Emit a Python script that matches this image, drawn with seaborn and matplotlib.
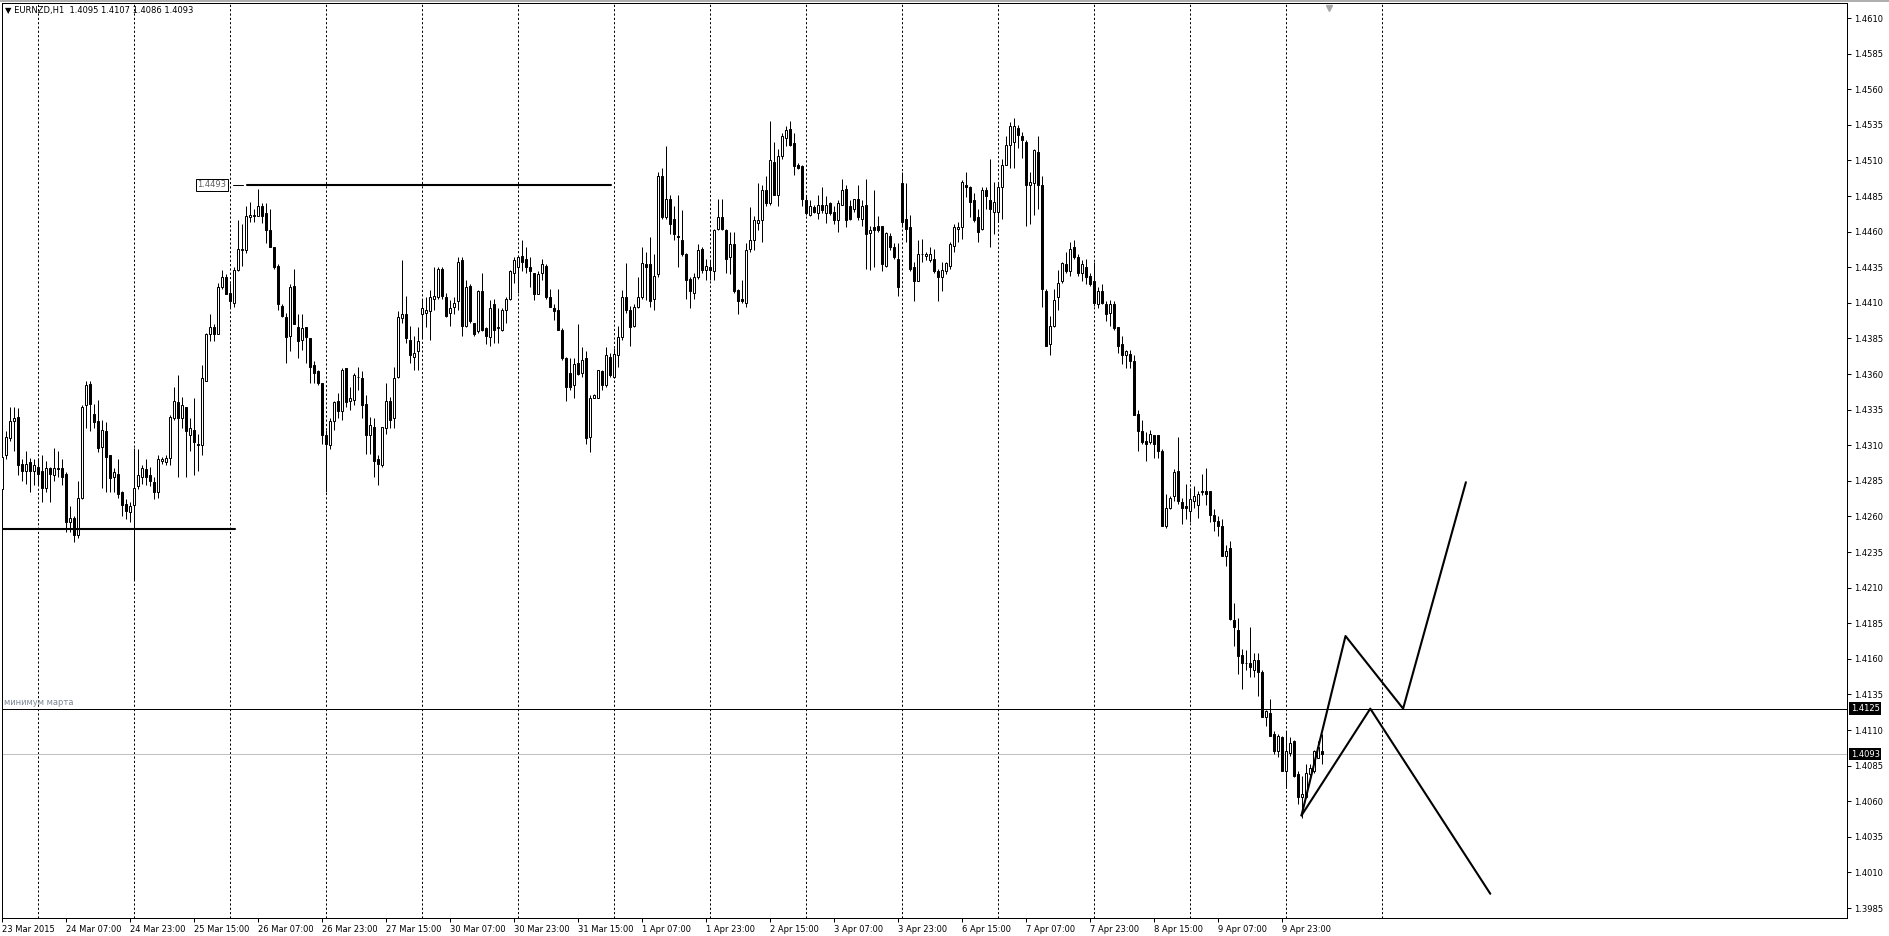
import matplotlib
matplotlib.use("Agg")
import matplotlib.pyplot as plt
import matplotlib.transforms as mtransforms
import seaborn as sns
import numpy as np
import pandas as pd

# ---------------- data (EURNZD H1, bars from 23 Mar 2015 15:00) ----------------
opens = [
1.4279,1.4303,1.4315,1.4327,1.4330,1.4297,1.4292,1.4298,1.4292,1.4295,
1.4292,1.4280,1.4294,1.4289,1.4294,1.4294,1.4290,1.4256,1.4259,1.4247,
1.4273,1.4338,1.4353,1.4332,1.4327,1.4309,1.4320,1.4303,1.4288,1.4290,
1.4277,1.4269,1.4263,1.4268,1.4281,1.4288,1.4293,1.4289,1.4284,1.4277,
1.4299,1.4298,1.4301,1.4329,1.4340,1.4329,1.4337,1.4317,1.4321,1.4311,
1.4310,1.4355,1.4388,1.4393,1.4388,1.4421,1.4428,1.4417,1.4410,1.4433,
1.4447,1.4447,1.4470,1.4471,1.4471,1.4478,1.4473,1.4461,1.4449,1.4436,
1.4408,1.4400,1.4387,1.4422,1.4393,1.4384,1.4393,1.4385,1.4366,1.4362,
1.4354,1.4317,1.4310,1.4327,1.4341,1.4334,1.4364,1.4341,1.4342,1.4358,
1.4357,1.4339,1.4317,1.4323,1.4300,1.4296,1.4322,1.4341,1.4329,1.4358,
1.4399,1.4402,1.4384,1.4372,1.4376,1.4402,1.4403,1.4404,1.4413,1.4414,
1.4434,1.4414,1.4403,1.4407,1.4411,1.4440,1.4394,1.4422,1.4396,1.4390,
1.4418,1.4392,1.4386,1.4409,1.4392,1.4391,1.4405,1.4413,1.4431,1.4435,
1.4443,1.4441,1.4435,1.4431,1.4416,1.4431,1.4436,1.4414,1.4406,1.4405,
1.4391,1.4371,1.4361,1.4352,1.4368,1.4361,1.4371,1.4316,1.4343,1.4343,
1.4362,1.4352,1.4372,1.4358,1.4373,1.4386,1.4414,1.4405,1.4394,1.4407,
1.4414,1.4437,1.4437,1.4413,1.4430,1.4499,1.4470,1.4483,1.4469,1.4457,
1.4454,1.4444,1.4427,1.4417,1.4428,1.4448,1.4433,1.4435,1.4432,1.4462,
1.4470,1.4461,1.4442,1.4451,1.4419,1.4413,1.4410,1.4448,1.4454,1.4466,
1.4468,1.4489,1.4480,1.4509,1.4486,1.4513,1.4526,1.4532,1.4522,1.4507,
1.4506,1.4482,1.4472,1.4477,1.4473,1.4479,1.4473,1.4480,1.4474,1.4468,
1.4479,1.4490,1.4478,1.4476,1.4483,1.4469,1.4479,1.4459,1.4463,1.4464,
1.4464,1.4436,1.4457,1.4449,1.4441,1.4494,1.4469,1.4463,1.4435,1.4425,
1.4444,1.4443,1.4440,1.4441,1.4432,1.4428,1.4432,1.4436,1.4450,1.4462,
1.4463,1.4493,1.4491,1.4482,1.4470,1.4462,1.4489,1.4482,1.4474,1.4474,
1.4491,1.4507,1.4521,1.4523,1.4533,1.4527,1.4523,1.4493,1.4494,1.4516,
1.4493,1.4418,1.4381,1.4394,1.4414,1.4425,1.4437,1.4432,1.4449,1.4442,
1.4431,1.4435,1.4429,1.4425,1.4409,1.4418,1.4409,1.4403,1.4409,1.4393,
1.4381,1.4373,1.4374,1.4369,1.4332,1.4320,1.4313,1.4312,1.4317,1.4317,
1.4306,1.4253,1.4266,1.4274,1.4292,1.4270,1.4267,1.4264,1.4271,1.4268,
1.4277,1.4278,1.4278,1.4261,1.4257,1.4253,1.4232,1.4238,1.4187,1.4180,
1.4163,1.4157,1.4157,1.4152,1.4159,1.4151,1.4119,1.4122,1.4107,1.4095,
1.4105,1.4081,1.4094,1.4102,1.4079,1.4063,1.4063,1.4079,1.4081,1.4090,
1.4095]
highs = [
1.4309,1.4320,1.4337,1.4337,1.4336,1.4300,1.4306,1.4301,1.4300,1.4301,
1.4303,1.4299,1.4295,1.4308,1.4306,1.4300,1.4291,1.4267,1.4260,1.4285,
1.4338,1.4355,1.4355,1.4339,1.4342,1.4328,1.4326,1.4303,1.4294,1.4300,
1.4278,1.4272,1.4270,1.4308,1.4307,1.4296,1.4300,1.4295,1.4288,1.4303,
1.4302,1.4303,1.4331,1.4351,1.4359,1.4344,1.4337,1.4329,1.4343,1.4318,
1.4366,1.4389,1.4402,1.4395,1.4424,1.4433,1.4430,1.4424,1.4435,1.4468,
1.4465,1.4478,1.4481,1.4476,1.4490,1.4480,1.4480,1.4476,1.4449,1.4437,
1.4409,1.4403,1.4423,1.4434,1.4402,1.4402,1.4393,1.4385,1.4369,1.4363,
1.4354,1.4321,1.4329,1.4341,1.4347,1.4364,1.4364,1.4351,1.4361,1.4365,
1.4362,1.4345,1.4330,1.4329,1.4303,1.4323,1.4354,1.4344,1.4365,1.4404,
1.4440,1.4415,1.4394,1.4387,1.4393,1.4413,1.4414,1.4419,1.4435,1.4435,
1.4435,1.4417,1.4412,1.4414,1.4442,1.4442,1.4426,1.4423,1.4396,1.4419,
1.4431,1.4393,1.4412,1.4413,1.4406,1.4406,1.4414,1.4433,1.4442,1.4443,
1.4454,1.4449,1.4442,1.4431,1.4432,1.4441,1.4437,1.4420,1.4409,1.4420,
1.4392,1.4372,1.4371,1.4371,1.4395,1.4379,1.4376,1.4345,1.4346,1.4363,
1.4363,1.4379,1.4375,1.4378,1.4394,1.4419,1.4438,1.4408,1.4409,1.4428,
1.4449,1.4446,1.4456,1.4444,1.4502,1.4505,1.4520,1.4486,1.4478,1.4486,
1.4475,1.4445,1.4428,1.4431,1.4451,1.4449,1.4441,1.4440,1.4462,1.4483,
1.4483,1.4462,1.4460,1.4460,1.4420,1.4426,1.4452,1.4477,1.4471,1.4494,
1.4493,1.4499,1.4538,1.4523,1.4518,1.4529,1.4534,1.4538,1.4529,1.4508,
1.4507,1.4486,1.4482,1.4479,1.4486,1.4491,1.4485,1.4481,1.4478,1.4482,
1.4497,1.4493,1.4482,1.4483,1.4493,1.4482,1.4497,1.4464,1.4489,1.4471,
1.4464,1.4460,1.4459,1.4452,1.4452,1.4502,1.4494,1.4472,1.4439,1.4454,
1.4455,1.4446,1.4449,1.4448,1.4434,1.4439,1.4439,1.4453,1.4465,1.4467,
1.4496,1.4502,1.4492,1.4487,1.4476,1.4491,1.4491,1.4511,1.4495,1.4495,
1.4511,1.4527,1.4537,1.4540,1.4535,1.4530,1.4524,1.4502,1.4518,1.4527,
1.4499,1.4420,1.4401,1.4420,1.4433,1.4439,1.4446,1.4453,1.4454,1.4444,
1.4440,1.4441,1.4431,1.4439,1.4421,1.4423,1.4411,1.4412,1.4411,1.4393,
1.4387,1.4377,1.4377,1.4373,1.4335,1.4328,1.4319,1.4321,1.4317,1.4317,
1.4307,1.4276,1.4274,1.4293,1.4316,1.4273,1.4283,1.4280,1.4281,1.4278,
1.4290,1.4294,1.4278,1.4265,1.4260,1.4258,1.4240,1.4243,1.4199,1.4189,
1.4167,1.4166,1.4182,1.4164,1.4164,1.4152,1.4124,1.4132,1.4109,1.4107,
1.4106,1.4109,1.4105,1.4103,1.4081,1.4078,1.4086,1.4086,1.4096,1.4102,
1.4107]
lows = [
1.4277,1.4300,1.4313,1.4306,1.4289,1.4285,1.4283,1.4277,1.4282,1.4282,
1.4270,1.4277,1.4270,1.4285,1.4288,1.4282,1.4249,1.4249,1.4242,1.4245,
1.4272,1.4322,1.4320,1.4322,1.4305,1.4280,1.4277,1.4277,1.4277,1.4273,
1.4260,1.4258,1.4256,1.4215,1.4279,1.4283,1.4282,1.4281,1.4272,1.4273,
1.4297,1.4296,1.4296,1.4328,1.4288,1.4322,1.4288,1.4306,1.4289,1.4292,
1.4303,1.4355,1.4383,1.4383,1.4388,1.4420,1.4416,1.4407,1.4407,1.4432,
1.4436,1.4445,1.4467,1.4467,1.4471,1.4466,1.4452,1.4449,1.4434,1.4405,
1.4400,1.4368,1.4376,1.4395,1.4371,1.4377,1.4368,1.4354,1.4354,1.4352,
1.4311,1.4277,1.4307,1.4321,1.4329,1.4328,1.4337,1.4335,1.4338,1.4349,
1.4329,1.4304,1.4304,1.4288,1.4282,1.4295,1.4318,1.4322,1.4322,1.4357,
1.4396,1.4382,1.4368,1.4363,1.4363,1.4385,1.4393,1.4384,1.4405,1.4413,
1.4413,1.4400,1.4394,1.4402,1.4405,1.4387,1.4393,1.4396,1.4387,1.4389,
1.4390,1.4381,1.4380,1.4382,1.4382,1.4390,1.4396,1.4412,1.4424,1.4417,
1.4432,1.4431,1.4421,1.4412,1.4416,1.4426,1.4413,1.4407,1.4398,1.4391,
1.4370,1.4341,1.4349,1.4343,1.4359,1.4358,1.4311,1.4305,1.4343,1.4343,
1.4349,1.4351,1.4358,1.4357,1.4365,1.4384,1.4403,1.4380,1.4393,1.4406,
1.4413,1.4412,1.4407,1.4405,1.4428,1.4469,1.4469,1.4458,1.4454,1.4435,
1.4443,1.4413,1.4406,1.4413,1.4427,1.4431,1.4426,1.4426,1.4426,1.4461,
1.4461,1.4431,1.4430,1.4417,1.4402,1.4410,1.4407,1.4446,1.4447,1.4461,
1.4453,1.4478,1.4479,1.4486,1.4478,1.4511,1.4520,1.4520,1.4500,1.4504,
1.4478,1.4472,1.4471,1.4473,1.4469,1.4473,1.4466,1.4472,1.4465,1.4460,
1.4479,1.4463,1.4468,1.4474,1.4468,1.4464,1.4434,1.4433,1.4435,1.4460,
1.4432,1.4435,1.4447,1.4441,1.4415,1.4463,1.4453,1.4432,1.4411,1.4425,
1.4439,1.4440,1.4439,1.4431,1.4411,1.4418,1.4430,1.4434,1.4446,1.4453,
1.4455,1.4484,1.4470,1.4467,1.4453,1.4461,1.4476,1.4449,1.4458,1.4467,
1.4469,1.4507,1.4505,1.4505,1.4519,1.4512,1.4464,1.4465,1.4472,1.4476,
1.4407,1.4380,1.4373,1.4393,1.4405,1.4424,1.4431,1.4429,1.4441,1.4429,
1.4425,1.4423,1.4422,1.4408,1.4406,1.4409,1.4397,1.4394,1.4391,1.4375,
1.4367,1.4364,1.4364,1.4331,1.4306,1.4311,1.4299,1.4311,1.4301,1.4301,
1.4253,1.4252,1.4265,1.4271,1.4269,1.4255,1.4258,1.4256,1.4266,1.4259,
1.4275,1.4268,1.4256,1.4250,1.4246,1.4232,1.4225,1.4187,1.4169,1.4149,
1.4139,1.4152,1.4147,1.4147,1.4134,1.4119,1.4113,1.4106,1.4093,1.4091,
1.4081,1.4069,1.4092,1.4077,1.4058,1.4048,1.4062,1.4077,1.4080,1.4090,
1.4086]
closes = [
1.4302,1.4316,1.4327,1.4329,1.4296,1.4292,1.4297,1.4292,1.4296,1.4290,
1.4280,1.4294,1.4290,1.4294,1.4293,1.4288,1.4256,1.4259,1.4247,1.4273,
1.4337,1.4352,1.4339,1.4326,1.4308,1.4321,1.4302,1.4287,1.4291,1.4276,
1.4268,1.4264,1.4267,1.4280,1.4289,1.4294,1.4288,1.4285,1.4277,1.4300,
1.4300,1.4301,1.4330,1.4341,1.4329,1.4338,1.4320,1.4322,1.4312,1.4310,
1.4357,1.4388,1.4393,1.4388,1.4421,1.4428,1.4416,1.4411,1.4433,1.4448,
1.4448,1.4471,1.4472,1.4472,1.4478,1.4471,1.4461,1.4449,1.4435,1.4409,
1.4401,1.4386,1.4421,1.4395,1.4383,1.4392,1.4386,1.4365,1.4361,1.4354,
1.4317,1.4311,1.4327,1.4340,1.4334,1.4363,1.4340,1.4343,1.4359,1.4358,
1.4338,1.4317,1.4324,1.4299,1.4297,1.4323,1.4341,1.4328,1.4357,1.4400,
1.4402,1.4385,1.4373,1.4375,1.4383,1.4406,1.4405,1.4414,1.4415,1.4434,
1.4415,1.4401,1.4406,1.4410,1.4439,1.4394,1.4421,1.4397,1.4388,1.4418,
1.4391,1.4387,1.4406,1.4391,1.4393,1.4405,1.4413,1.4432,1.4440,1.4442,
1.4439,1.4435,1.4432,1.4416,1.4430,1.4437,1.4414,1.4407,1.4404,1.4391,
1.4371,1.4351,1.4351,1.4367,1.4360,1.4370,1.4315,1.4343,1.4345,1.4363,
1.4352,1.4373,1.4359,1.4374,1.4386,1.4414,1.4405,1.4393,1.4407,1.4414,
1.4438,1.4435,1.4411,1.4429,1.4499,1.4470,1.4483,1.4465,1.4458,1.4456,
1.4444,1.4426,1.4418,1.4428,1.4447,1.4433,1.4436,1.4433,1.4461,1.4470,
1.4462,1.4441,1.4451,1.4418,1.4411,1.4411,1.4447,1.4454,1.4468,1.4468,
1.4489,1.4480,1.4510,1.4486,1.4513,1.4527,1.4531,1.4521,1.4506,1.4505,
1.4483,1.4473,1.4478,1.4474,1.4479,1.4475,1.4479,1.4473,1.4468,1.4480,
1.4489,1.4468,1.4469,1.4483,1.4470,1.4478,1.4458,1.4461,1.4461,1.4461,
1.4437,1.4459,1.4449,1.4442,1.4421,1.4467,1.4462,1.4434,1.4425,1.4444,
1.4444,1.4444,1.4444,1.4432,1.4428,1.4433,1.4438,1.4451,1.4463,1.4463,
1.4495,1.4491,1.4481,1.4468,1.4460,1.4489,1.4485,1.4476,1.4481,1.4491,
1.4507,1.4521,1.4534,1.4534,1.4528,1.4524,1.4493,1.4495,1.4517,1.4493,
1.4420,1.4380,1.4394,1.4412,1.4424,1.4438,1.4432,1.4448,1.4442,1.4431,
1.4437,1.4428,1.4423,1.4410,1.4418,1.4410,1.4402,1.4409,1.4392,1.4380,
1.4373,1.4376,1.4369,1.4331,1.4320,1.4312,1.4311,1.4318,1.4311,1.4306,
1.4253,1.4266,1.4273,1.4291,1.4271,1.4266,1.4266,1.4272,1.4274,1.4276,
1.4278,1.4276,1.4261,1.4257,1.4253,1.4232,1.4236,1.4188,1.4182,1.4162,
1.4157,1.4157,1.4154,1.4159,1.4151,1.4119,1.4123,1.4106,1.4095,1.4106,
1.4081,1.4095,1.4101,1.4078,1.4063,1.4065,1.4080,1.4083,1.4095,1.4098,
1.4093]

tick_bars = [0, 16, 32, 48, 64, 80, 96, 112, 128, 144, 160, 176, 192, 208, 224,
             240, 256, 272, 288, 304, 320]
tick_labels = ["23 Mar 2015", "24 Mar 07:00", "24 Mar 23:00", "25 Mar 15:00",
               "26 Mar 07:00", "26 Mar 23:00", "27 Mar 15:00", "30 Mar 07:00",
               "30 Mar 23:00", "31 Mar 15:00", "1 Apr 07:00", "1 Apr 23:00",
               "2 Apr 15:00", "3 Apr 07:00", "3 Apr 23:00", "6 Apr 15:00",
               "7 Apr 07:00", "7 Apr 23:00", "8 Apr 15:00", "9 Apr 07:00",
               "9 Apr 23:00"]
day_separators = [9, 33, 57, 81, 105, 129, 153, 177, 201, 225, 249, 273, 297, 321, 345]
price_ticks = [1.4610, 1.4585, 1.4560, 1.4535, 1.4510, 1.4485, 1.4460, 1.4435,
               1.4410, 1.4385, 1.4360, 1.4335, 1.4310, 1.4285, 1.4260, 1.4235,
               1.4210, 1.4185, 1.4160, 1.4135, 1.4110, 1.4085, 1.4060, 1.4035,
               1.4010, 1.3985]

support_x = [-0.2, 58.2]
support_y = [1.4251, 1.4251]
resist_x = [61.1, 152.2]
resist_y = [1.4493, 1.4493]
march_low = 1.4125
bid_price = 1.4093
zigzag_a_x = [324.8, 335.8, 350.2, 365.9]
zigzag_a_y = [1.4050, 1.4176, 1.4125, 1.4284]
zigzag_b_x = [324.8, 342.0, 372.0]
zigzag_b_y = [1.4050, 1.4125, 1.3995]

# ---------------- figure ----------------
sns.set_style("white")
plt.rcParams['font.family'] = ['DejaVu Sans']

W, H = 1889, 936
fig = plt.figure(figsize=(W / 100, H / 100), dpi=100)
ax_l, ax_r, ax_t, ax_b = 1.5, 1846.7, 3.0, 918.0
ax = fig.add_axes([ax_l / W, 1 - ax_b / H, (ax_r - ax_l) / W, (ax_b - ax_t) / H])
ax.set_facecolor('white')

LW = 0.72  # one pixel

df = pd.DataFrame({"o": opens, "h": highs, "l": lows, "c": closes})
df["bar"] = np.arange(len(df))
df["bottom"] = df[["o", "c"]].min(axis=1)
df["height"] = (df["c"] - df["o"]).abs()
df["up"] = df["c"] >= df["o"]

# day separators
for s in day_separators:
    ax.axvline(s, color='black', lw=LW, linestyle=(0, (2.16, 2.16)), zorder=1)

# horizontal level lines
ax.axhline(bid_price, color='#c0c0c0', lw=LW, zorder=1.5)
ax.axhline(march_low, color='black', lw=LW, zorder=1.6)

# candles
ax.vlines(df["bar"], df["l"], df["h"], color='black', lw=LW, zorder=2)
ax.bar(df["bar"], df["height"], bottom=df["bottom"], width=0.5,
       color=np.where(df["up"], 'white', 'black'), edgecolor='black',
       linewidth=LW, zorder=3)

# drawn objects
for xs, ys in ((support_x, support_y), (resist_x, resist_y),
               (zigzag_a_x, zigzag_a_y), (zigzag_b_x, zigzag_b_y)):
    sns.lineplot(x=xs, y=ys, ax=ax, color='black', linewidth=1.5,
                 sort=False, estimator=None, zorder=4)

ax.plot([57.6, 60.1], [resist_y[0], resist_y[0]], color='black', lw=LW, zorder=4)
ax.text(48.8, resist_y[0], "1.4493", fontsize=6, color='#606060', ha='left', va='center',
        bbox=dict(boxstyle='square,pad=0.18', fc='white', ec='black', lw=LW), zorder=5)

ax.annotate("минимум марта", xy=(0, march_low), xycoords=('axes fraction', 'data'),
            xytext=(2, 1.5), textcoords='offset points', fontsize=6,
            color='#7d8896', ha='left', va='bottom')

# limits
ax.set_xlim((ax_l - 2.3) / 4, (ax_r - 2.3) / 4)
ax.set_ylim(1.4610 - (ax_b - 18) / 14240, 1.4610 + (18 - ax_t) / 14240)

# axes styling
for sp in ax.spines.values():
    sp.set_visible(True)
    sp.set_color('black')
    sp.set_linewidth(LW)

ax.yaxis.tick_right()
ax.set_yticks(price_ticks)
ax.set_yticklabels([f"{p:.4f}" for p in price_ticks])
ax.tick_params(axis='y', which='both', right=True, left=False, length=3,
               width=LW, pad=2, labelsize=6, colors='black')
ax.set_xticks(tick_bars)
ax.set_xticklabels(tick_labels)
ax.tick_params(axis='x', which='both', bottom=True, length=3, width=LW,
               pad=2, labelsize=6, colors='black')
for lab in ax.get_xticklabels():
    lab.set_horizontalalignment('left')
ax.set_xlabel("")
ax.set_ylabel("")

# price tags on the right scale
tr = mtransforms.blended_transform_factory(ax.transAxes, ax.transData)
for p in (march_low, bid_price):
    ax.text(1.0 + 4 / (ax_r - ax_l), p, f"{p:.4f}", transform=tr, fontsize=6,
            color='white', ha='left', va='center', clip_on=False, zorder=6,
            bbox=dict(boxstyle='square,pad=0.2', fc='black', ec='black', lw=0))

# chart shift marker
ax.plot([331.7], [0.994], transform=mtransforms.blended_transform_factory(ax.transData, ax.transAxes),
        marker='v', color='#a8a8a8', markersize=5, clip_on=False, zorder=6)

# window top edge
fig.add_artist(plt.Line2D([0, 1], [1 - 0.8 / H, 1 - 0.8 / H], transform=fig.transFigure,
                          color='#a0a0a0', lw=1.2))

# header
fig.text(5 / W, 1 - 10 / H, "\u25bc EURNZD,H1  1.4095 1.4107 1.4086 1.4093",
         fontsize=6, color='black', ha='left', va='center')

fig.savefig("out.png", dpi=100)
